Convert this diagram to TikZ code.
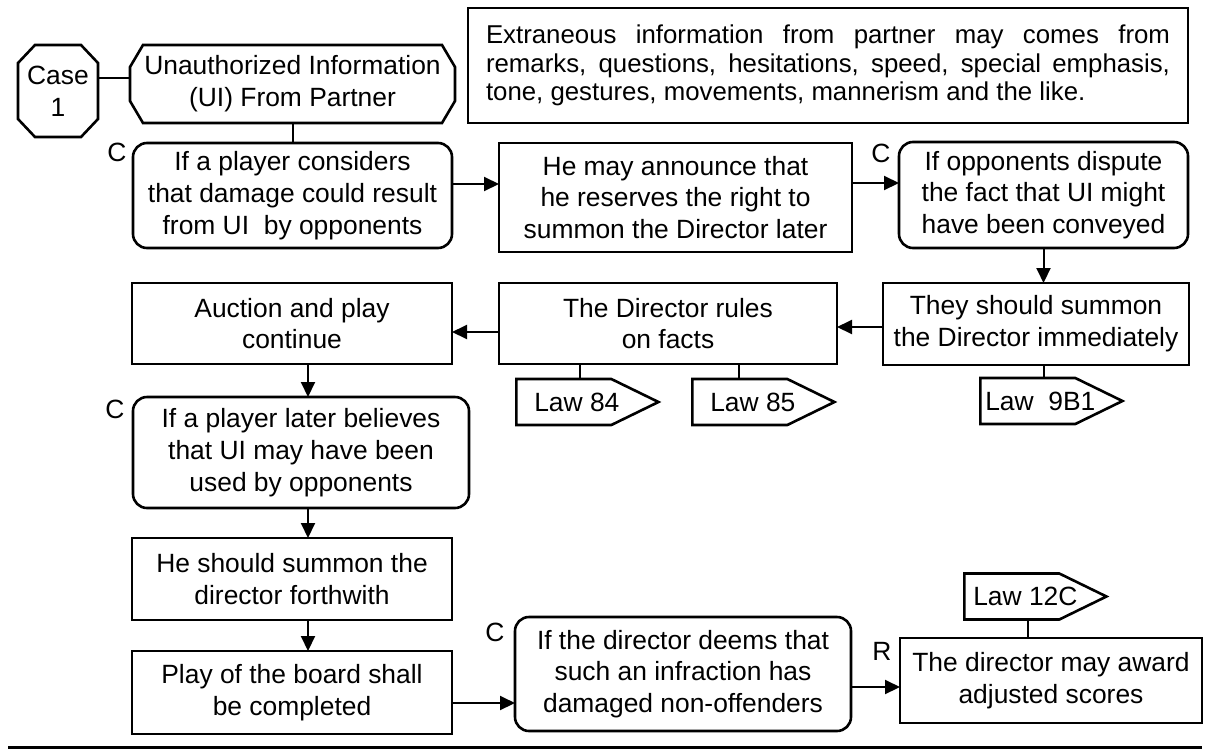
\documentclass[tikz,border=0pt]{standalone}
\usepackage{fontspec}
\setmainfont{Liberation Sans}
\usetikzlibrary{arrows.meta, shapes.symbols}

\begin{document}
\begin{tikzpicture}[x=1pt, y=-1pt,
  txt/.style={font=\fontsize{26.4}{31.7}\selectfont},
  plain/.style={txt, align=center, inner sep=2pt, outer sep=0pt},
  box/.style={plain, draw, line width=2.6pt},
  roundbox/.style={box, rounded corners=14pt},
  edge/.style={line width=2.6pt, line join=miter},
  lawtag/.style={txt, draw, line width=2.6pt, signal, signal to=east,
    signal pointer angle=52, inner xsep=0pt, inner ysep=0pt, minimum height=46pt, anchor=west},
  link/.style={line width=2pt},
  arr/.style={link, -{Triangle[length=15pt, width=14pt]}}]
\useasboundingbox (0,0) rectangle (1209,750);

% the two octagons
\node[plain, minimum width=80pt, minimum height=92pt] (case) at (58,91) {Case\\1};
\draw[edge] ([xshift=17pt]case.north west) -- ([xshift=-17pt]case.north east)
  -- ([yshift=-18pt]case.north east) -- ([yshift=18pt]case.south east)
  -- ([xshift=-17pt]case.south east) -- ([xshift=17pt]case.south west)
  -- ([yshift=18pt]case.south west) -- ([yshift=-18pt]case.north west) -- cycle;
\node[plain, minimum width=325pt, minimum height=78pt] (ui) at (292.5,84)
  {Unauthorized Information\\(UI) From Partner};
\draw[edge] ([xshift=13pt]ui.north west) -- ([xshift=-13pt]ui.north east)
  -- ([yshift=-22pt]ui.north east) -- ([yshift=22pt]ui.south east)
  -- ([xshift=-13pt]ui.south east) -- ([xshift=13pt]ui.south west)
  -- ([yshift=22pt]ui.south west) -- ([yshift=-22pt]ui.north west) -- cycle;

\node[box, font=\fontsize{25.8}{28.5}\selectfont, minimum width=720pt, minimum height=115pt,
  text width=684pt, align=justify] (extra) at (828,65.5)
  {Extraneous information from partner may comes from\linebreak
   remarks, questions, hesitations, speed, special emphasis,\linebreak
   tone, gestures, movements, mannerism and the like.};

\node[roundbox, minimum width=319pt, minimum height=105pt] (consider) at (292.5,195.5)
  {If a player considers\\that damage could result\\from UI~ by opponents};
\node[box, minimum width=353pt, minimum height=109pt] (announce) at (675.5,197.5)
  {He may announce that\\he reserves the right to\\summon the Director later};
\node[roundbox, minimum width=289pt, minimum height=106pt] (dispute) at (1043.5,195)
  {If opponents dispute\\the fact that UI might\\have been conveyed};
\node[box, minimum width=306pt, minimum height=82pt] (summon) at (1036,324)
  {They should summon\\the Director immediately};
\node[box, minimum width=338pt, minimum height=81pt] (rules) at (668,323.5)
  {The Director rules\\on facts};
\node[box, minimum width=320pt, minimum height=81pt] (auction) at (292,323.5)
  {Auction and play\\continue};
\node[roundbox, minimum width=336pt, minimum height=111pt] (later) at (301,452.5)
  {If a player later believes\\that UI may have been\\used by opponents};
\node[box, minimum width=320pt, minimum height=82pt] (forthwith) at (292,579)
  {He should summon the\\director forthwith};
\node[box, minimum width=320pt, minimum height=83pt] (play) at (292,692.5)
  {Play of the board shall\\be completed};
\node[roundbox, minimum width=336pt, minimum height=114pt] (deems) at (683,674)
  {If the director deems that\\such an infraction has\\damaged non-offenders};
\node[box, minimum width=302pt, minimum height=85pt] (award) at (1051,680.5)
  {The director may award\\adjusted scores};

\node[lawtag] (law84) at (515,402) {\makebox[95pt][l]{\hspace{18pt}Law 84}};
\node[lawtag] (law85) at (691,402) {\makebox[95pt][l]{\hspace{18pt}Law 85}};
\node[lawtag] (law9b1) at (979,401) {\makebox[95pt][l]{\hspace{5pt}Law~~9B1}};
\node[lawtag] (law12c) at (963,596.5) {\makebox[95pt][l]{\hspace{9pt}Law 12C}};

\node[txt] (c1) at (117,152) {C};
\node[txt] (c2) at (881,153) {C};
\node[txt] (c3) at (115,409) {C};
\node[txt] (c4) at (495,632) {C};
\node[txt] (r1) at (882,651) {R};

\draw[link] ([yshift=13pt]case.east) -- ([yshift=13pt]case.east -| ui.west);
\draw[link] (ui.south) -- (consider.north);
\draw[arr] ([yshift=11.5pt]consider.east) -- ([yshift=11.5pt]consider.east -| announce.west);
\draw[arr] ([yshift=14.5pt]announce.east) -- ([yshift=14.5pt]announce.east -| dispute.west);
\draw[arr] (dispute.south) -- (dispute.south |- summon.north);
\draw[arr] ([yshift=-3pt]summon.west) -- ([yshift=-3pt]summon.west -| rules.east);
\draw[arr] ([yshift=-8.5pt]rules.west) -- ([yshift=-8.5pt]rules.west -| auction.east);
\draw[link] ([xshift=-88pt]rules.south) -- ([xshift=-88pt]rules.south |- law84.north);
\draw[link] ([xshift=71pt]rules.south) -- ([xshift=71pt]rules.south |- law85.north);
\draw[link] ([xshift=8pt]summon.south) -- ([xshift=8pt]summon.south |- law9b1.north);
\draw[arr] ([xshift=16pt]auction.south) -- ([xshift=16pt]auction.south |- later.north);
\draw[arr] ([xshift=7pt]later.south) -- ([xshift=7pt]later.south |- forthwith.north);
\draw[arr] ([xshift=16pt]forthwith.south) -- ([xshift=16pt]forthwith.south |- play.north);
\draw[arr] ([yshift=-10.5pt]play.east) -- ([yshift=-10.5pt]play.east -| deems.west);
\draw[arr] ([yshift=-13pt]deems.east) -- ([yshift=-13pt]deems.east -| award.west);
\draw[link] ([xshift=-23pt]award.north) -- ([xshift=-23pt]award.north |- law12c.south);

\coordinate (L) at (8,747.5);
\coordinate (R) at (1202,747.5);
\draw[line width=2.6pt] (L) -- (R);
\end{tikzpicture}
\end{document}
